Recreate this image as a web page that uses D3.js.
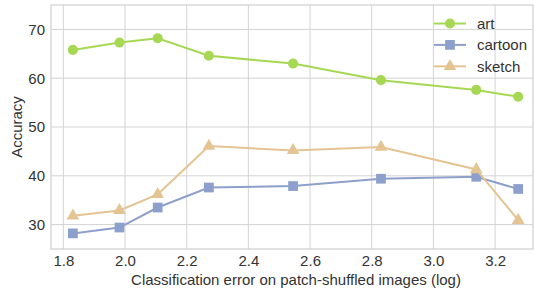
<!DOCTYPE html>
<html>
<head>
<meta charset="utf-8">
<script src="https://cdn.jsdelivr.net/npm/d3@7"></script>
<style>
  body { margin: 0; background: #fff; }
  text { font-family: "Liberation Sans", Arial, sans-serif; fill: #333; }
</style>
</head>
<body>
<div id="chart"></div>
<script>
let svgWidth = 534;
let svgHeight = 289;

// plot borders
let margin = { top: 5, right: 1, bottom: 40, left: 51 };
let width = svgWidth - margin.left - margin.right;
let height = svgHeight - margin.top - margin.bottom;

// data
let xValues = [1.831, 1.982, 2.106, 2.272, 2.545, 2.830, 3.139, 3.275];
let artAcc = [65.8, 67.3, 68.2, 64.6, 63.0, 59.6, 57.6, 56.2];
let cartoonAcc = [28.2, 29.4, 33.5, 37.6, 37.9, 39.4, 39.8, 37.3];
let sketchAcc = [31.8, 32.9, 36.2, 46.1, 45.2, 45.9, 41.3, 30.9];
let seriesNames = ['art', 'cartoon', 'sketch'];
let xTicks = [1.8, 2.0, 2.2, 2.4, 2.6, 2.8, 3.0, 3.2];
let yTicks = [30, 40, 50, 60, 70];

let colors = { art: '#a6d854', cartoon: '#8da0cb', sketch: '#e5c494' };
let markers = { art: d3.symbolCircle, cartoon: d3.symbolSquare, sketch: d3.symbolTriangle };
let markerSize = { art: 80, cartoon: 95, sketch: 70 };

let series = [
  { name: 'art', values: artAcc },
  { name: 'cartoon', values: cartoonAcc },
  { name: 'sketch', values: sketchAcc },
];

let svg = d3.select('#chart').append('svg')
  .attr('width', svgWidth)
  .attr('height', svgHeight);

let chartGroup = svg.append('g')
  .attr('transform', `translate(${margin.left}, ${margin.top})`);

let xScale = d3.scaleLinear().domain([1.76, 3.323]).range([0, width]);
let yScale = d3.scaleLinear().domain([25, 75]).range([height, 0]);

// grid
chartGroup.append('g').selectAll('line')
  .data(xTicks).enter().append('line')
  .attr('x1', d => xScale(d)).attr('x2', d => xScale(d))
  .attr('y1', 0).attr('y2', height)
  .attr('stroke', '#d3d3d3').attr('stroke-width', 1);

chartGroup.append('g').selectAll('line')
  .data(yTicks).enter().append('line')
  .attr('x1', 0).attr('x2', width)
  .attr('y1', d => yScale(d)).attr('y2', d => yScale(d))
  .attr('stroke', '#d3d3d3').attr('stroke-width', 1);

// frame
chartGroup.append('rect')
  .attr('x', 0).attr('y', 0)
  .attr('width', width).attr('height', height)
  .attr('fill', 'none').attr('stroke', '#cfcfcf').attr('stroke-width', 1.2);

// axes (labels only)
let xAxis = chartGroup.append('g')
  .attr('transform', `translate(0, ${height})`)
  .call(d3.axisBottom(xScale).tickValues(xTicks).tickFormat(d3.format('.1f')).tickSize(0).tickPadding(6));
xAxis.select('.domain').remove();
xAxis.selectAll('text').style('font-size', '15px').attr('fill', '#333');

let yAxis = chartGroup.append('g')
  .call(d3.axisLeft(yScale).tickValues(yTicks).tickSize(0).tickPadding(6));
yAxis.select('.domain').remove();
yAxis.selectAll('text').style('font-size', '15px').attr('fill', '#333');

// axis titles
svg.append('text')
  .attr('x', 296)
  .attr('y', 285)
  .attr('text-anchor', 'middle')
  .style('font-size', '15px')
  .text('Classification error on patch-shuffled images (log)');

svg.append('text')
  .attr('transform', `translate(22, ${margin.top + height / 2}) rotate(-90)`)
  .attr('text-anchor', 'middle')
  .style('font-size', '15px')
  .text('Accuracy');

// lines and markers
let line = d3.line()
  .x((d, i) => xScale(xValues[i]))
  .y(d => yScale(d));

series.forEach(function(s) {
  chartGroup.append('path')
    .datum(s.values)
    .attr('d', line)
    .attr('fill', 'none')
    .attr('stroke', colors[s.name])
    .attr('stroke-width', 2);

  chartGroup.append('g').selectAll('path')
    .data(s.values).enter().append('path')
    .attr('d', d3.symbol().type(markers[s.name]).size(markerSize[s.name]))
    .attr('transform', (d, i) => `translate(${xScale(xValues[i])}, ${yScale(d)})`)
    .attr('fill', colors[s.name]);
});

// legend
let legend = svg.append('g')
  .attr('transform', 'translate(434, 23.5)');

seriesNames.forEach(function(name, i) {
  let row = legend.append('g').attr('transform', `translate(0, ${i * 21.4})`);
  row.append('line')
    .attr('x1', 0).attr('x2', 32).attr('y1', 0).attr('y2', 0)
    .attr('stroke', colors[name]).attr('stroke-width', 2);
  row.append('path')
    .attr('d', d3.symbol().type(markers[name]).size(markerSize[name]))
    .attr('transform', 'translate(16, 0)')
    .attr('fill', colors[name]);
  row.append('text')
    .attr('x', 43).attr('y', 0).attr('dy', '0.35em')
    .style('font-size', '15px')
    .text(name);
});
</script>
</body>
</html>
